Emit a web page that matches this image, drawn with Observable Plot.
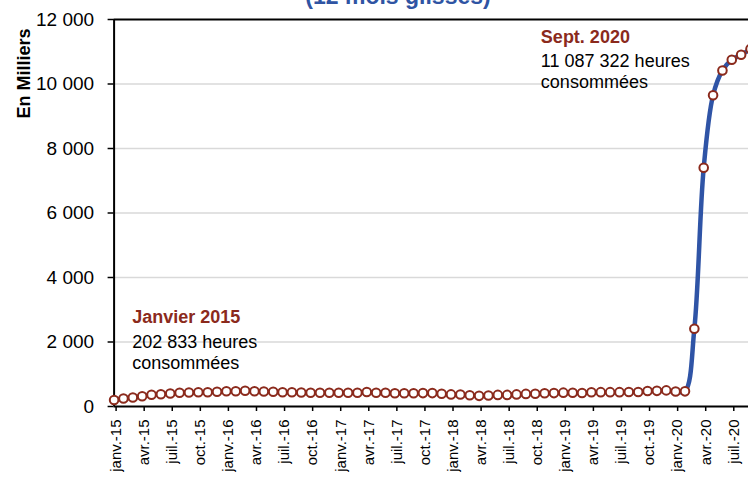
<!DOCTYPE html>
<html><head><meta charset="utf-8">
<script src="https://cdn.jsdelivr.net/npm/d3@7"></script>
<script src="https://cdn.jsdelivr.net/npm/@observablehq/plot@0.6"></script>
<style>
body{margin:0;background:#fff;}
#wrap{position:relative;width:748px;height:477px;overflow:hidden;background:#fff;font-family:"Liberation Sans",Arial,sans-serif;}
#title{position:absolute;left:0;width:796px;top:-15px;text-align:center;font-weight:bold;font-size:23px;line-height:23px;color:#2f54a3;white-space:nowrap;}
#chart{position:absolute;left:0;top:0;width:760px;height:477px;}
#chart svg{max-width:none !important;width:760px !important;height:477px !important;}
</style></head><body>
<div id="wrap"><div id="title">(12 mois glissés)</div><div id="chart"></div></div>
<script>
// Tick labels (every 3 months, starting janv.-15)
const tickLabels = ["janv.-15","avr.-15","juil.-15","oct.-15","janv.-16","avr.-16","juil.-16","oct.-16",
  "janv.-17","avr.-17","juil.-17","oct.-17","janv.-18","avr.-18","juil.-18","oct.-18",
  "janv.-19","avr.-19","juil.-19","oct.-19","janv.-20","avr.-20","juil.-20"];
// Monthly values, janv.-15 .. sept.-20, in thousands of hours (12 mois glissés)
const values = [203,248,279,319,363,381,403,425,434,443,443,456,474,474,487,474,465,456,443,443,
  434,428,428,428,428,428,428,450,428,428,409,409,409,415,415,395,375,370,350,330,
  340,360,360,375,390,395,410,415,430,425,420,440,445,445,445,448,450,480,485,500,
  465,470,2409,7402,9653,10419,10750,10905,11087];
const yTicks = [0,2000,4000,6000,8000,10000,12000];
const annotTitles = ["Janvier 2015","Sept. 2020"];
const annotBodies = ["202 833 heures\nconsommées","11 087 322 heures\nconsommées"];
const annotX = [1.93, 45.6];
const annotY = [2977, 11681];
const yLabel = "En Milliers";

const data = values.map((v, i) => ({i, v}));
const annots = annotTitles.map((t, k) => ({t, b: annotBodies[k], x: annotX[k], y: annotY[k]}));
const tickPos = tickLabels.map((_, k) => k * 3);
const yFmt = d => d3.format(",")(d).replace(/,/g, " ");
const red = "#8b2a1c";
const font = "Liberation Sans, Arial, sans-serif";

const plot = Plot.plot({
  width: 760, height: 477,
  marginTop: 19, marginBottom: 71, marginLeft: 113.6, marginRight: 10,
  style: {fontFamily: font, background: "transparent", overflow: "visible", color: "#000", maxWidth: "none"},
  x: {domain: [0, 68], axis: null},
  y: {domain: [0, 12000], axis: null},
  marks: [
    Plot.ruleY(yTicks.filter(d => d > 0 && d < 12000), {stroke: "#d9d9d9", strokeWidth: 1.5}),
    Plot.axisY({ticks: yTicks, tickFormat: yFmt, tickSize: 6, tickPadding: 14, fontSize: 19, strokeWidth: 1.5}),
    Plot.axisX({ticks: tickPos, tickFormat: d => tickLabels[Math.round(d / 3)], tickRotate: -90, tickSize: 5, tickPadding: 8, fontSize: 15, strokeWidth: 1.5, dx: 2}),
    Plot.ruleY([12000], {stroke: "#000", strokeWidth: 2}),
    Plot.ruleY([0], {stroke: "#000", strokeWidth: 2}),
    Plot.ruleX([0], {stroke: "#000", strokeWidth: 2}),
    Plot.line(data, {x: "i", y: "v", curve: "catmull-rom", stroke: "#2f54a6", strokeWidth: 4.5}),
    Plot.dot(data, {x: "i", y: "v", r: 4.3, fill: "white", stroke: red, strokeWidth: 2}),
    Plot.text(annots, {x: "x", y: "y", text: "t", textAnchor: "start", lineAnchor: "top", fontSize: 18, fontWeight: "bold", fill: red}),
    Plot.text(annots, {x: "x", y: "y", text: "b", textAnchor: "start", lineAnchor: "top", fontSize: 18, fill: "#000", dy: 23, lineHeight: 1.15}),
    Plot.text([yLabel], {text: d => d, frameAnchor: "top-left", rotate: -90, textAnchor: "end", dx: -96.6, dy: 9, fontSize: 18, fontWeight: "bold", fill: "#000"})
  ]
});
document.getElementById("chart").appendChild(plot);
</script>
</body></html>
